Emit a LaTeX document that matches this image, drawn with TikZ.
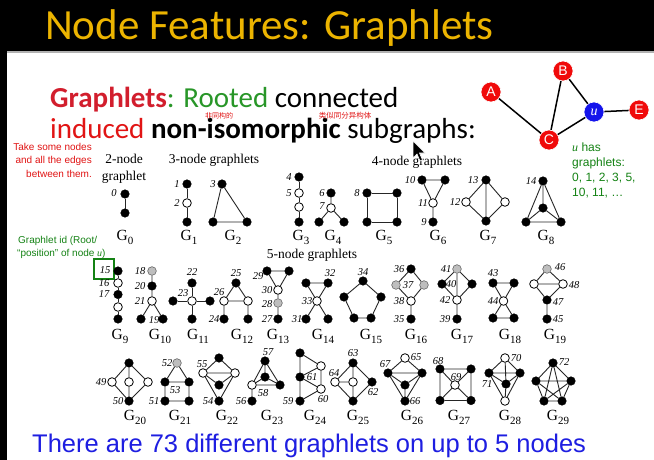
\documentclass[tikz,border=0pt]{standalone}
\usepackage{fontspec}
\setmainfont{Liberation Serif}
\setsansfont{Liberation Sans}
\newfontfamily\calib{Carlito}
\newfontfamily\cjk{Noto Sans CJK SC}
\definecolor{titleyellow}{RGB}{236,180,0}
\definecolor{hred}{RGB}{210,30,45}
\definecolor{hgreen}{RGB}{40,150,40}
\definecolor{agreen}{RGB}{20,130,20}
\definecolor{ared}{RGB}{225,20,20}
\definecolor{gblue}{RGB}{30,30,225}
\definecolor{ngray}{RGB}{190,190,190}
\definecolor{nred}{RGB}{240,10,10}
\definecolor{nblue}{RGB}{20,20,235}
\tikzset{
  bn/.style={circle,fill=black,draw=black,inner sep=0pt,minimum size=8.6pt},
  wn/.style={circle,fill=white,draw=black,line width=0.8pt,inner sep=0pt,minimum size=8.6pt},
  gn/.style={circle,fill=ngray,draw=black!60,line width=0.6pt,inner sep=0pt,minimum size=8.6pt},
  ed/.style={line width=0.9pt,draw=black!85},
  nl/.style={font=\fontsize{10.5}{10.5}\selectfont\itshape,inner sep=0pt},
  gl/.style={font=\fontsize{15.5}{15.5}\selectfont,anchor=base,inner sep=0pt},
  hd/.style={font=\fontsize{13.5}{13.5}\selectfont,anchor=base,inner sep=0pt},
  bignode/.style={circle,fill=nred,draw=white,line width=0.6pt,inner sep=0pt,minimum size=20pt,text=white,font=\sffamily\fontsize{14}{14}\selectfont},
  redline/.style={anchor=base east,inner sep=0pt,text=ared,font=\sffamily\fontsize{10}{10}\selectfont},
  greenline/.style={anchor=base west,inner sep=0pt,text=agreen,font=\sffamily\fontsize{10}{10}\selectfont},
  uline/.style={anchor=base west,inner sep=0pt,text=agreen,font=\sffamily\fontsize{12}{12}\selectfont},
  headline/.style={anchor=base west,inner sep=0,font=\calib\fontsize{29}{29}\selectfont},
  cjknote/.style={inner sep=0,text=ared,font=\cjk\fontsize{7}{7}\selectfont},
}
\newcommand\Gsub[1]{G\raisebox{-0.28em}{\fontsize{11}{11}\selectfont #1}}
\begin{document}
\begin{tikzpicture}[x=1pt,y=-1pt]
\useasboundingbox (0,0) rectangle (654,460);
\fill[white] (0,0) rectangle (654,460);
\fill[black] (0,0) rectangle (654,51);
\fill[black] (0,51) rectangle (7,460);
\draw[gray!60,line width=1.2pt] (7,52) -- (654,52);
\node[anchor=base west,inner sep=0,text=titleyellow,font=\calib\fontsize{43}{43}\selectfont] (title) at (45,40) {Node Features: Graphlets};

% heading
\node[headline] (h1) at (50,107) {\textcolor{hred}{\bfseries Graphlets}\textcolor{hgreen}{: Rooted} connected};
\node[headline] (h2) at (50,139) {\textcolor{ared}{induced} \textbf{non-isomorphic} subgraphs:};
\node[cjknote] (cn1) at (219,116) {非同构的};
\node[cjknote,font=\cjk\fontsize{7.5}{7.5}\selectfont] (cn2) at (345,116) {类似同分异构体};

% left notes
\node[redline] (t1) at (92,150) {Take some nodes};
\node[redline] (t2) at (92,163.5) {and all the edges};
\node[redline] (t3) at (92,177) {between them.};
\node[greenline] (gi1) at (18,243) {Graphlet id (Root/};
\node[greenline] (gi2) at (17,256) {“position” of node {\rmfamily\itshape u})};
\node[draw=agreen,line width=2pt,minimum width=20pt,minimum height=20pt,inner sep=0] (box15) at (104,269) {};

% top-right graph
\node[bignode] (A) at (491,92) {A};
\node[bignode] (B) at (563,71) {B};
\node[bignode,fill=nblue] (U) at (594,112) {\rmfamily\itshape u};
\node[bignode] (E) at (639,110) {E};
\node[bignode] (C) at (549,140) {C};
\draw[line width=1.5pt] (A)--(C) (B)--(C) (B)--(U) (U)--(C) (U)--(E);
\node[uline] (uh1) at (572,151) {{\rmfamily\itshape u} has};
\node[uline] (uh2) at (572,166) {graphlets:};
\node[uline] (uh3) at (572,181) {0, 1, 2, 3, 5,};
\node[uline] (uh4) at (572,196) {10, 11, …};

% headers
\node[hd] (hd2a) at (124,164) {2-node};
\node[hd] (hd2b) at (124,180) {graphlet};
\node[hd] (hd3) at (214,164) {3-node graphlets};
\node[hd] (hd4) at (417,165) {4-node graphlets};
\node[hd] (hd5) at (312,258) {5-node graphlets};

% ===== Row 1 =====
% G0
\node[bn] (g0a) at (125,194) {};
\node[bn] (g0b) at (125,213) {};
\draw[ed] (g0a)--(g0b);
\node[nl] (l0) at (114,193) {0};
\node[gl] (G0) at (125,240) {\Gsub{0}};
% G1
\node[bn] (g1a) at (187,184) {};
\node[wn] (g1b) at (187,203) {};
\node[bn] (g1c) at (187,222) {};
\draw[ed] (g1a)--(g1b) (g1b)--(g1c);
\node[nl] (l1) at (177,184) {1};
\node[nl] (l2) at (177,203) {2};
\node[gl] (G1) at (189,240) {\Gsub{1}};
% G2
\node[bn] (g2a) at (222,184) {};
\node[bn] (g2b) at (213,222) {};
\node[bn] (g2c) at (247,222) {};
\draw[ed] (g2a)--(g2b) (g2a)--(g2c) (g2b)--(g2c);
\node[nl] (l3) at (213,184) {3};
\node[gl] (G2) at (233,240) {\Gsub{2}};
% G3
\node[bn] (g3a) at (299,177) {};
\node[wn] (g3b) at (299,193) {};
\node[wn] (g3c) at (299,207) {};
\node[bn] (g3d) at (299,222) {};
\draw[ed] (g3a)--(g3b) (g3b)--(g3c) (g3c)--(g3d);
\node[nl] (l4) at (289,177) {4};
\node[nl] (l5) at (289,193) {5};
\node[gl] (G3) at (301,240) {\Gsub{3}};
% G4
\node[bn] (g4a) at (331,193) {};
\node[wn] (g4b) at (331,208) {};
\node[bn] (g4c) at (319,222) {};
\node[bn] (g4d) at (344,222) {};
\draw[ed] (g4a)--(g4b) (g4b)--(g4c) (g4b)--(g4d);
\node[nl] (l6) at (322,193) {6};
\node[nl] (l7) at (322,206) {7};
\node[gl] (G4) at (333,240) {\Gsub{4}};
% G5
\node[bn] (g5a) at (367,193) {};
\node[bn] (g5b) at (397,193) {};
\node[bn] (g5c) at (367,222) {};
\node[bn] (g5d) at (397,222) {};
\draw[ed] (g5a)--(g5b) (g5b)--(g5d) (g5d)--(g5c) (g5c)--(g5a);
\node[nl] (l8) at (357,193) {8};
\node[gl] (G5) at (384,240) {\Gsub{5}};
% G6
\node[bn] (g6a) at (422,180) {};
\node[bn] (g6b) at (445,180) {};
\node[wn] (g6c) at (433,203) {};
\node[bn] (g6d) at (433,222) {};
\draw[ed] (g6a)--(g6b) (g6a)--(g6c) (g6b)--(g6c) (g6c)--(g6d);
\node[nl] (l10) at (410,180) {10};
\node[nl] (l11) at (423,203) {11};
\node[nl] (l9) at (424,222) {9};
\node[gl] (G6) at (438,240) {\Gsub{6}};
% G7
\node[bn] (g7a) at (486,180) {};
\node[wn] (g7b) at (466,202) {};
\node[wn] (g7c) at (505,202) {};
\node[bn] (g7d) at (486,221) {};
\draw[ed] (g7a)--(g7b) (g7a)--(g7c) (g7b)--(g7d) (g7c)--(g7d) (g7a)--(g7d);
\node[nl] (l13) at (473,180) {13};
\node[nl] (l12) at (455,202) {12};
\node[gl] (G7) at (488,240) {\Gsub{7}};
% G8
\node[bn] (g8a) at (543,181) {};
\node[bn] (g8b) at (543,208) {};
\node[bn] (g8c) at (526,222) {};
\node[bn] (g8d) at (561,222) {};
\draw[ed] (g8a)--(g8b) (g8a)--(g8c) (g8a)--(g8d) (g8b)--(g8c) (g8b)--(g8d) (g8c)--(g8d);
\node[nl] (l14) at (531,181) {14};
\node[gl] (G8) at (546,240) {\Gsub{8}};

% ===== Row 2 =====
% G9
\node[bn] (g9a) at (118,271) {};
\node[wn] (g9b) at (118,283) {};
\node[bn] (g9c) at (118,294.5) {};
\node[wn] (g9d) at (118,307) {};
\node[bn] (g9e) at (118,319) {};
\draw[ed] (g9a)--(g9b) (g9b)--(g9c) (g9c)--(g9d) (g9d)--(g9e);
\node[nl] (l15) at (105,270) {15};
\node[nl] (l16) at (104,283) {16};
\node[nl] (l17) at (104,294.5) {17};
\node[gl] (G9) at (120,339.5) {\Gsub{9}};
% G10
\node[gn] (g10a) at (152,271) {};
\node[bn] (g10b) at (152,286) {};
\node[wn] (g10c) at (152,301) {};
\node[bn] (g10d) at (141,319) {};
\node[bn] (g10e) at (163,319) {};
\draw[ed] (g10a)--(g10b) (g10b)--(g10c) (g10c)--(g10d) (g10c)--(g10e);
\node[nl] (l18) at (140,271) {18};
\node[nl] (l20) at (140,286) {20};
\node[nl] (l21) at (140,301) {21};
\node[nl] (l19) at (154,320.5) {19};
\node[gl] (G10) at (160,339.5) {\Gsub{10}};
% G11
\node[wn] (g11c) at (192,301) {};
\node[bn] (g11t) at (192,283) {};
\node[bn] (g11l) at (173,301) {};
\node[bn] (g11r) at (210,301) {};
\node[bn] (g11b) at (192,319) {};
\draw[ed] (g11c)--(g11t) (g11c)--(g11l) (g11c)--(g11r) (g11c)--(g11b);
\node[nl] (l22) at (192,272) {22};
\node[nl] (l23) at (183,293) {23};
\node[gl] (G11) at (198,339.5) {\Gsub{11}};
% G12
\node[bn] (g12t) at (236,283) {};
\node[wn] (g12l) at (224,301) {};
\node[wn] (g12r) at (248,301) {};
\node[bn] (g12bl) at (224,319) {};
\node[bn] (g12br) at (248,319) {};
\draw[ed] (g12t)--(g12l) (g12t)--(g12r) (g12l)--(g12r) (g12l)--(g12bl) (g12r)--(g12br);
\node[nl] (l25) at (236,273) {25};
\node[nl] (l26) at (219,292) {26};
\node[nl] (l24) at (214,319) {24};
\node[gl] (G12) at (242,339.5) {\Gsub{12}};
% G13
\node[bn] (g13a) at (267,271) {};
\node[bn] (g13b) at (289,271) {};
\node[wn] (g13c) at (278,290) {};
\node[gn] (g13d) at (278,303) {};
\node[bn] (g13e) at (278,319) {};
\draw[ed] (g13a)--(g13b) (g13a)--(g13c) (g13b)--(g13c) (g13c)--(g13d) (g13d)--(g13e);
\node[nl] (l29) at (258,276) {29};
\node[nl] (l30) at (267,290) {30};
\node[nl] (l28) at (267,304) {28};
\node[nl] (l27) at (267,319) {27};
\node[gl] (G13) at (278,339.5) {\Gsub{13}};
% G14
\node[bn] (g14a) at (306,283) {};
\node[bn] (g14b) at (328,283) {};
\node[wn] (g14c) at (317,301) {};
\node[bn] (g14d) at (306,319) {};
\node[bn] (g14e) at (328,319) {};
\draw[ed] (g14a)--(g14b) (g14a)--(g14c) (g14b)--(g14c) (g14c)--(g14d) (g14c)--(g14e);
\node[nl] (l32) at (330,273) {32};
\node[nl] (l33) at (307,301) {33};
\node[nl] (l31) at (297,319) {31};
\node[gl] (G14) at (323,339.5) {\Gsub{14}};
% G15
\node[bn] (g15a) at (363,281) {};
\node[bn] (g15b) at (344,297) {};
\node[bn] (g15c) at (381,297) {};
\node[bn] (g15d) at (354,318) {};
\node[bn] (g15e) at (371,318) {};
\draw[ed] (g15a)--(g15b) (g15b)--(g15d) (g15d)--(g15e) (g15e)--(g15c) (g15c)--(g15a);
\node[nl] (l34) at (363,272) {34};
\node[gl] (G15) at (371,339.5) {\Gsub{15}};
% G16
\node[bn] (g16a) at (411,269) {};
\node[gn] (g16b) at (396,285) {};
\node[gn] (g16c) at (424,285) {};
\node[wn] (g16d) at (411,301) {};
\node[bn] (g16e) at (411,319) {};
\draw[ed] (g16a)--(g16b) (g16a)--(g16c) (g16b)--(g16d) (g16c)--(g16d) (g16d)--(g16e);
\node[nl] (l36) at (399,269) {36};
\node[nl] (l37) at (408,285) {37};
\node[nl] (l38) at (399,301) {38};
\node[nl] (l35) at (399,319) {35};
\node[gl] (G16) at (416,339.5) {\Gsub{16}};
% G17
\node[gn] (g17a) at (457,269) {};
\node[bn] (g17b) at (442,284) {};
\node[bn] (g17c) at (472,284) {};
\node[wn] (g17d) at (457,300) {};
\node[bn] (g17e) at (457,319) {};
\draw[ed] (g17a)--(g17b) (g17a)--(g17c) (g17a)--(g17d) (g17b)--(g17d) (g17c)--(g17d) (g17d)--(g17e);
\node[nl] (l41) at (446,269) {41};
\node[nl] (l40) at (451,284) {40};
\node[nl] (l42) at (445,300) {42};
\node[nl] (l39) at (445,319) {39};
\node[gl] (G17) at (462,339.5) {\Gsub{17}};
% G18
\node[bn] (g18a) at (493,283) {};
\node[bn] (g18b) at (514,283) {};
\node[wn] (g18c) at (503.5,301) {};
\node[bn] (g18d) at (493,318) {};
\node[bn] (g18e) at (514,318) {};
\draw[ed] (g18a)--(g18b) (g18a)--(g18c) (g18b)--(g18c) (g18c)--(g18d) (g18c)--(g18e) (g18d)--(g18e);
\node[nl] (l43) at (493,273) {43};
\node[nl] (l44) at (493,301) {44};
\node[gl] (G18) at (510,339.5) {\Gsub{18}};
% G19
\node[gn] (g19a) at (547,269) {};
\node[wn] (g19b) at (534,284) {};
\node[wn] (g19c) at (563,284) {};
\node[bn] (g19d) at (547,300) {};
\node[bn] (g19e) at (547,319) {};
\draw[ed] (g19a)--(g19b) (g19a)--(g19c) (g19b)--(g19c) (g19b)--(g19d) (g19c)--(g19d) (g19d)--(g19e);
\node[nl] (l46) at (560,267) {46};
\node[nl] (l48) at (574,285) {48};
\node[nl] (l47) at (558,302) {47};
\node[nl] (l45) at (558,319) {45};
\node[gl] (G19) at (555,339.5) {\Gsub{19}};

% ===== Row 3 =====
% G20
\node[bn] (g20a) at (129,363) {};
\node[wn] (g20b) at (112,382) {};
\node[wn] (g20c) at (129,382) {};
\node[wn] (g20d) at (148,382) {};
\node[bn] (g20e) at (129,401) {};
\draw[ed] (g20a)--(g20b) (g20a)--(g20c) (g20a)--(g20d) (g20b)--(g20e) (g20c)--(g20e) (g20d)--(g20e);
\node[nl] (l49) at (101,382) {49};
\node[nl] (l50) at (118,401) {50};
\node[gl] (G20) at (135,420) {\Gsub{20}};
% G21
\node[gn] (g21a) at (177,363) {};
\node[bn] (g21b) at (165,382) {};
\node[bn] (g21c) at (189,382) {};
\node[bn] (g21d) at (165,401) {};
\node[bn] (g21e) at (189,401) {};
\draw[ed] (g21a)--(g21b) (g21a)--(g21c) (g21b)--(g21c) (g21b)--(g21d) (g21c)--(g21e) (g21d)--(g21e);
\node[nl] (l52) at (167,363) {52};
\node[nl] (l53) at (175,390) {53};
\node[nl] (l51) at (154,401) {51};
\node[gl] (G21) at (180,420) {\Gsub{21}};
% G22
\node[bn] (g22a) at (219,358) {};
\node[wn] (g22b) at (203,373) {};
\node[wn] (g22c) at (235,373) {};
\node[bn] (g22d) at (219,385) {};
\node[bn] (g22e) at (219,401) {};
\draw[ed] (g22a)--(g22b) (g22a)--(g22c) (g22b)--(g22c) (g22b)--(g22d) (g22c)--(g22d) (g22b)--(g22e) (g22c)--(g22e);
\node[nl] (l55) at (202,364) {55};
\node[nl] (l54) at (208,401) {54};
\node[gl] (G22) at (227,420) {\Gsub{22}};
% G23
\node[bn] (g23a) at (265,361) {};
\node[bn] (g23b) at (265,377) {};
\node[wn] (g23c) at (252,385) {};
\node[bn] (g23d) at (280,385) {};
\node[bn] (g23e) at (252,401) {};
\draw[ed] (g23a)--(g23b) (g23a)--(g23c) (g23a)--(g23d) (g23b)--(g23c) (g23b)--(g23d) (g23c)--(g23d) (g23c)--(g23e);
\node[nl] (l57) at (268,352) {57};
\node[nl] (l58) at (263,393) {58};
\node[nl] (l56) at (241,401) {56};
\node[gl] (G23) at (272,420) {\Gsub{23}};
% G24
\node[bn] (g24a) at (300,353) {};
\node[bn] (g24b) at (300,377) {};
\node[bn] (g24c) at (300,401) {};
\node[wn] (g24d) at (321,366) {};
\node[wn] (g24e) at (321,389) {};
\draw[ed] (g24a)--(g24b) (g24b)--(g24c) (g24a)--(g24d) (g24b)--(g24d) (g24b)--(g24e) (g24c)--(g24e) (g24d)--(g24e);
\node[nl] (l61) at (312,377) {61};
\node[nl] (l59) at (288,401) {59};
\node[nl] (l60) at (323,399) {60};
\node[gl] (G24) at (315,420) {\Gsub{24}};
% G25
\node[bn] (g25a) at (353,363) {};
\node[wn] (g25b) at (335,382) {};
\node[wn] (g25c) at (353,382) {};
\node[bn] (g25d) at (372,382) {};
\node[bn] (g25e) at (353,401) {};
\draw[ed] (g25a)--(g25b) (g25a)--(g25c) (g25a)--(g25d) (g25b)--(g25c) (g25b)--(g25e) (g25c)--(g25e) (g25d)--(g25e);
\node[nl] (l63) at (353,353) {63};
\node[nl] (l64) at (334,373) {64};
\node[nl] (l62) at (373,392) {62};
\node[gl] (G25) at (358,420) {\Gsub{25}};
% G26
\node[wn] (g26a) at (405,358) {};
\node[bn] (g26b) at (388,373) {};
\node[bn] (g26c) at (422,373) {};
\node[bn] (g26d) at (405,385) {};
\node[bn] (g26e) at (405,401) {};
\draw[ed] (g26a)--(g26b) (g26a)--(g26c) (g26b)--(g26c) (g26b)--(g26d) (g26c)--(g26d) (g26b)--(g26e) (g26c)--(g26e) (g26d)--(g26e);
\node[nl] (l65) at (416,357) {65};
\node[nl] (l67) at (385,364) {67};
\node[nl] (l66) at (415,401) {66};
\node[gl] (G26) at (412,420) {\Gsub{26}};
% G27
\node[bn] (g27a) at (440,369) {};
\node[bn] (g27b) at (471,369) {};
\node[wn] (g27c) at (455,385) {};
\node[bn] (g27d) at (440,400.5) {};
\node[bn] (g27e) at (471,400.5) {};
\draw[ed] (g27a)--(g27b) (g27b)--(g27e) (g27e)--(g27d) (g27d)--(g27a) (g27a)--(g27c) (g27b)--(g27c) (g27d)--(g27c) (g27e)--(g27c);
\node[nl] (l68) at (438,361) {68};
\node[nl] (l69) at (456,377) {69};
\node[gl] (G27) at (459,420) {\Gsub{27}};
% G28
\node[wn] (g28a) at (505,358) {};
\node[bn] (g28b) at (489,373) {};
\node[bn] (g28c) at (520,373) {};
\node[bn] (g28d) at (506,384) {};
\node[wn] (g28e) at (505,401) {};
\draw[ed] (g28a)--(g28b) (g28a)--(g28c) (g28a)--(g28d) (g28b)--(g28c) (g28b)--(g28d) (g28c)--(g28d) (g28b)--(g28e) (g28c)--(g28e) (g28d)--(g28e);
\node[nl] (l70) at (516,358) {70};
\node[nl] (l71) at (487,384) {71};
\node[gl] (G28) at (510,420) {\Gsub{28}};
% G29
\node[bn] (g29a) at (553,363) {};
\node[bn] (g29b) at (536,381) {};
\node[bn] (g29c) at (571,381) {};
\node[bn] (g29d) at (544,401) {};
\node[bn] (g29e) at (562,401) {};
\draw[ed] (g29a)--(g29b) (g29a)--(g29c) (g29a)--(g29d) (g29a)--(g29e) (g29b)--(g29c) (g29b)--(g29d) (g29b)--(g29e) (g29c)--(g29d) (g29c)--(g29e) (g29d)--(g29e);
\node[nl] (l72) at (564,362) {72};
\node[gl] (G29) at (558,420) {\Gsub{29}};

% cursor
\filldraw[fill=black,draw=white,line width=0.6pt] (413,141) -- ++(0,17) -- ++(4,-4) -- ++(3,7) -- ++(2.5,-1) -- ++(-3,-7) -- ++(5.5,0) -- cycle;

% bottom text
\node[anchor=base west,inner sep=0,text=gblue,font=\sffamily\fontsize{25.5}{25.5}\selectfont] (bottom) at (32,452) {There are 73 different graphlets on up to 5 nodes};
\end{tikzpicture}
\end{document}
